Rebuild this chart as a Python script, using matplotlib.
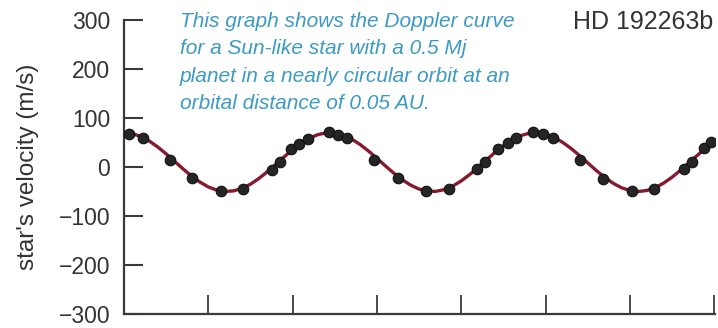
import matplotlib
matplotlib.use("Agg")
import matplotlib.pyplot as plt

# ==============================
# DATA
# ==============================
# measured radial velocities: time (days), velocity (m/s)
obs_days = [0.6, 2.2, 5.4, 8.1, 11.5, 14.1, 17.5, 18.5, 19.8, 20.7, 21.8,
            24.3, 25.4, 26.4, 29.7, 32.5, 35.8, 38.5, 41.9, 42.8, 44.4,
            45.5, 46.5, 48.5, 49.7, 50.9, 54.1, 56.8, 60.3, 62.9, 66.4,
            67.4, 68.8, 69.6]
obs_vel = [68, 60, 15, -23, -49, -45, -6, 10, 37, 47, 57,
           71, 66, 59, 15, -22, -49, -45, -5, 11, 37,
           48, 60, 71, 67, 60, 15, -24, -49, -45, -5,
           11, 38, 51]

# fitted curve sampled once per day (days 0..70)
curve_days = list(range(0, 71))
curve_vel = [70.0, 68.0, 62.2, 53.0, 40.9, 26.8, 11.5, -3.8, -18.2, -30.7,
             -40.7, -47.2, -49.9, -48.7, -43.7, -35.1, -23.4, -9.7, 5.4, 20.8,
             35.4, 48.4, 58.9, 66.1, 69.7, 69.3, 65.0, 57.0, 46.0, 32.6,
             17.7, 2.3, -12.6, -26.0, -37.0, -45.0, -49.3, -49.7, -46.1, -38.9,
             -28.4, -15.4, -0.8, 14.6, 29.7, 43.4, 55.1, 63.7, 68.7, 69.9,
             67.2, 60.6, 50.7, 38.2, 23.8, 8.5, -6.8, -20.9, -33.0, -42.2,
             -48.0, -50.0, -48.0, -42.2, -33.0, -20.9, -6.8, 8.5, 23.8, 38.2,
             50.7]

y_ticks = [-300, -200, -100, 0, 100, 200, 300]
x_ticks = [10, 20, 30, 40, 50, 60, 70]

note = ("This graph shows the Doppler curve\n"
        "for a Sun-like star with a 0.5 Mj\n"
        "planet in a nearly circular orbit at an\n"
        "orbital distance of 0.05 AU.")
planet = "HD 192263b"

# ==============================
# STYLE
# ==============================
plt.rcParams['font.family'] = ['Liberation Sans', 'DejaVu Sans']
axis_col = "#3a3a3a"
note_col = "#3c9ac4"
curve_col = "#861a2e"

fig = plt.figure(figsize=(7.18, 3.28), dpi=100)
ax = fig.add_axes([124 / 718, 14 / 328, 591 / 718, 294 / 328])

# ==============================
# PLOT
# ==============================
ax.plot(curve_days, curve_vel, color=curve_col, lw=2.4, zorder=2,
        solid_capstyle='round')
ax.plot(obs_days, obs_vel, 'o', color="#252525", mec="#111111", mew=0.8,
        ms=7.6, zorder=3)

ax.set_xlim(0, 70.1)
ax.set_ylim(-300, 300)

for side in ("top", "right"):
    ax.spines[side].set_visible(False)
for side in ("left", "bottom"):
    ax.spines[side].set_linewidth(1.6)
    ax.spines[side].set_color(axis_col)

ax.set_yticks(y_ticks)
ax.set_xticks(x_ticks)
ax.set_xticklabels([])
ax.tick_params(axis='y', direction='in', length=14, width=1.5,
               color=axis_col, labelcolor="#333333", labelsize=16.5, pad=10)
ax.tick_params(axis='x', direction='in', length=14, width=1.3,
               color=axis_col)

ax.set_ylabel("star's velocity (m/s)", fontsize=17.5, color="#333333",
              labelpad=14)

fig.text(180 / 718, 1 - 12 / 328, note, ha='left', va='top',
         fontsize=15, style='italic', color=note_col,
         linespacing=1.55)
fig.text(713 / 718, 1 - 10 / 328, planet, ha='right', va='top',
         fontsize=18, color="#333333")

fig.savefig("out.png", dpi=100)
